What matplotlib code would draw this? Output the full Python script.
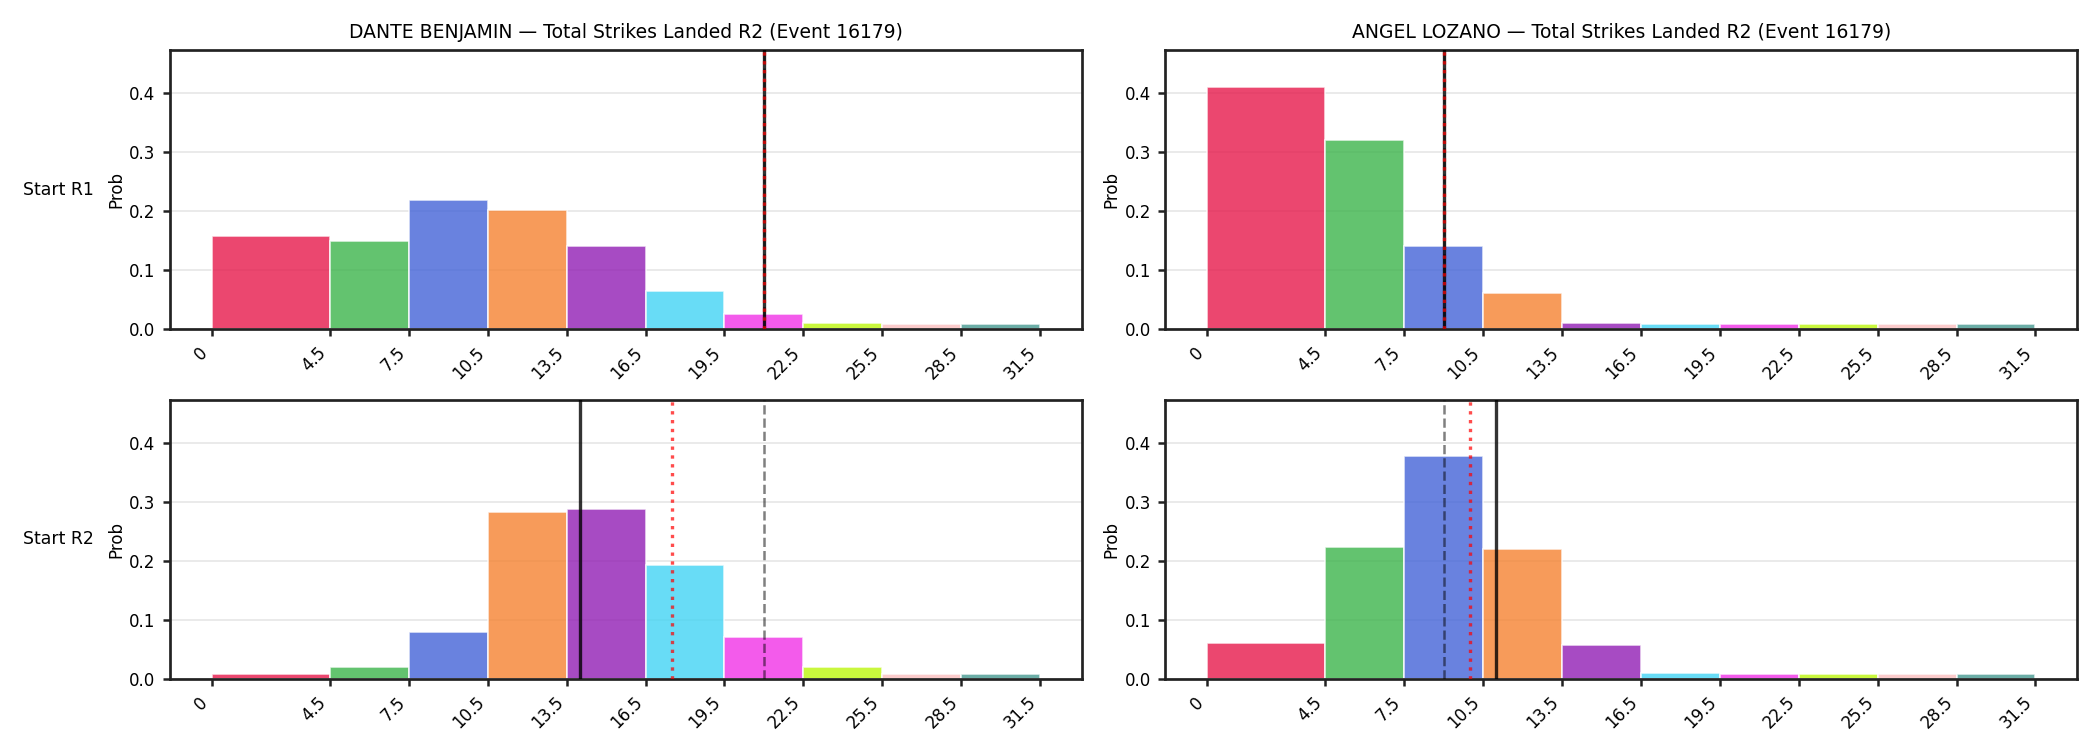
import numpy as np
import matplotlib.pyplot as plt

edges = [0, 4.5, 7.5, 10.5, 13.5, 16.5, 19.5, 22.5, 25.5, 28.5, 31.5]
palette = ['#e6194b', '#3cb44b', '#4363d8', '#f58231', '#911eb4',
           '#42d4f4', '#f032e6', '#bcf60c', '#fabebe', '#469990']

fighters = ['DANTE BENJAMIN', 'ANGEL LOZANO']
rows = ['Start R1', 'Start R2']

# probabilities per bin: [row][fighter]
dante_r1 = [0.158, 0.150, 0.218, 0.2025, 0.140, 0.0645, 0.026, 0.010, 0.0085, 0.009]
angel_r1 = [0.411, 0.321, 0.1415, 0.0617, 0.010, 0.0085, 0.0085, 0.0085, 0.0085, 0.009]
dante_r2 = [0.0085, 0.020, 0.080, 0.283, 0.2885, 0.1935, 0.0713, 0.020, 0.008, 0.0085]
angel_r2 = [0.0605, 0.224, 0.377, 0.220, 0.0577, 0.0096, 0.008, 0.008, 0.008, 0.0085]

# vertical markers: (line, projection, actual)
line_vals = [[21, 9], [21, 9]]
proj_vals = [[21, 9], [17.5, 10]]
actual_vals = [[21, 9], [14, 11]]

probs = [[dante_r1, angel_r1], [dante_r2, angel_r2]]

fig, axes = plt.subplots(2, 2, figsize=(14, 5), dpi=150)
fig.subplots_adjust(left=0.081, right=0.989, top=0.933, bottom=0.095,
                    hspace=0.255, wspace=0.092)

ymax = max(max(max(p) for p in r) for r in probs) * 1.15
widths = np.diff(edges)

for i in range(2):
    for j in range(2):
        ax = axes[i, j]
        ax.bar(edges[:-1], probs[i][j], width=widths, align='edge',
               color=palette, alpha=0.8, edgecolor='white', linewidth=0.8, zorder=2)
        ax.axvline(line_vals[i][j], color='black', linestyle='--', linewidth=1.2, alpha=0.5, zorder=3)
        ax.axvline(actual_vals[i][j], color='black', linestyle='-', linewidth=1.6, alpha=0.8, zorder=3)
        ax.axvline(proj_vals[i][j], color='red', linestyle=':', linewidth=1.6, alpha=0.7, zorder=4)
        ax.set_ylim(0, ymax)
        ax.set_xticks(edges)
        ax.set_xticklabels([f'{e:g}' for e in edges], rotation=45, ha='right', fontsize=8)
        ax.tick_params(axis='y', labelsize=8)
        ax.tick_params(width=1.2, color='#222222')
        ax.set_ylabel('Prob', fontsize=8, labelpad=2)
        ax.grid(axis='y', color='#e6e6e6', linewidth=0.8, zorder=0)
        ax.set_axisbelow(True)
        for s in ax.spines.values():
            s.set_linewidth(1.3)
            s.set_color('#222222')
        if i == 0:
            ax.set_title(f'{fighters[j]} \u2014 Total Strikes Landed R2 (Event 16179)', fontsize=9)
    pos = axes[i, 0].get_position()
    fig.text(0.011, (pos.y0 + pos.y1) / 2, rows[i], ha='left', va='center', fontsize=8.3)

fig.savefig('out.png', dpi=150)
